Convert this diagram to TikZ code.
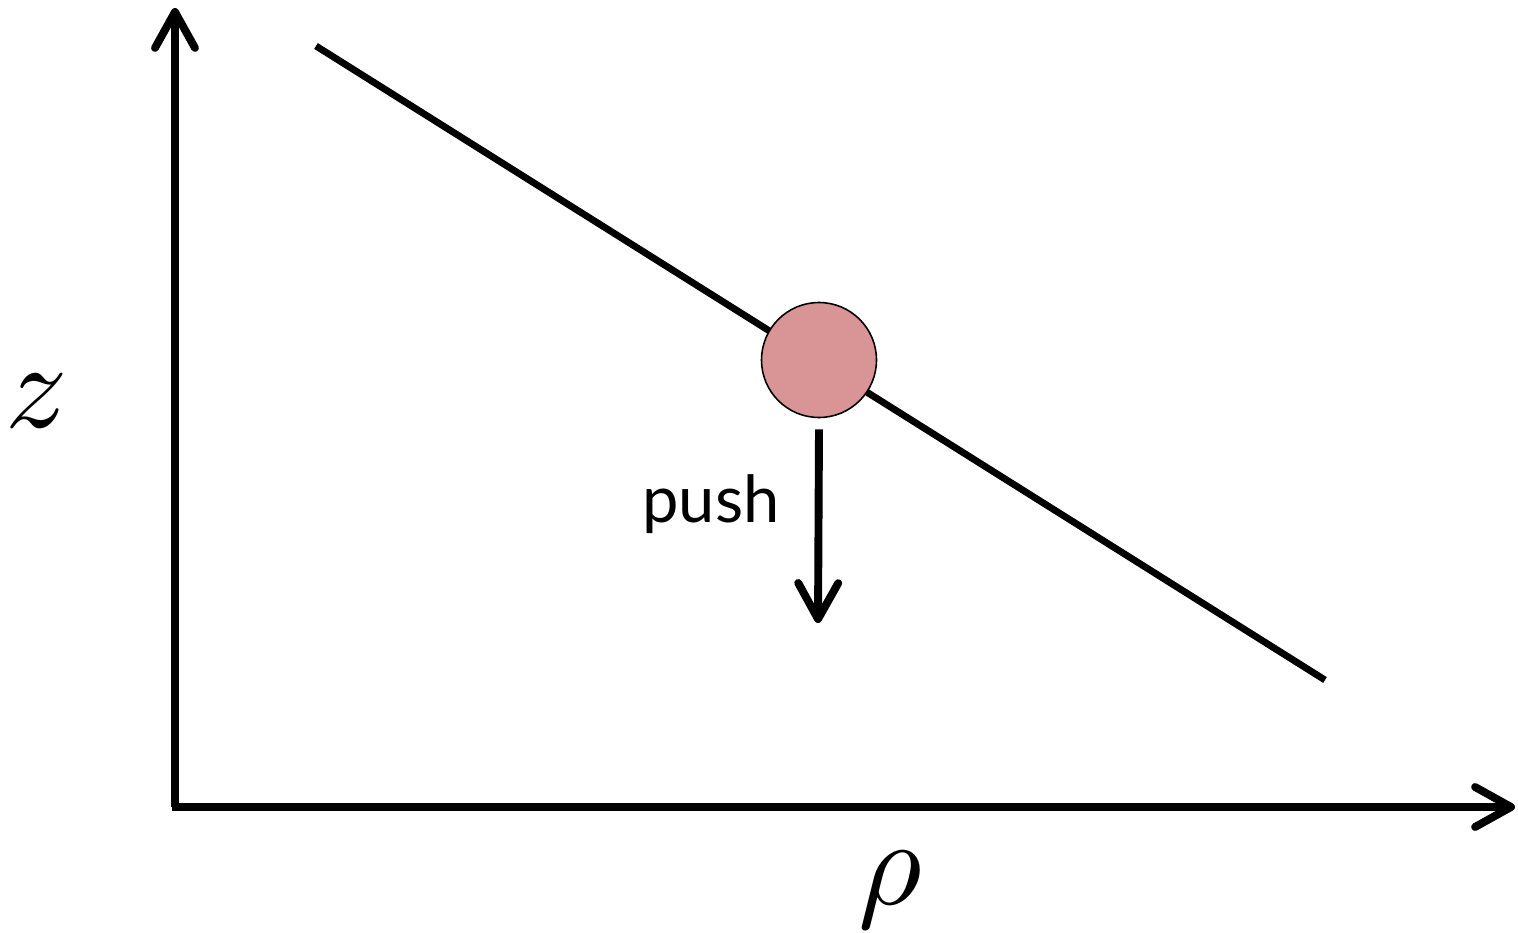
\documentclass[tikz,border=0pt]{standalone}
\usepackage{fontspec}
\newfontfamily\pushfont{Lato}
\usetikzlibrary{arrows.meta,positioning}
\definecolor{ballRose}{RGB}{217,149,149}

\begin{document}
\begin{tikzpicture}[x=0.02cm, y=-0.02cm, >={Straight Barb[length=0.72cm, width=0.8cm, round]}]
    \useasboundingbox (0,0) rectangle (1518,933);
    \coordinate (ORIGIN) at (175,807);
    \coordinate (ZTOP) at (175,8);
    \coordinate (RHOEND) at (1515,807);
    \coordinate (LINESTART) at (316,46);
    \coordinate (LINEEND) at (1325,680);

    \draw[line width=3.9pt] (LINESTART) -- (LINEEND);
    \node[draw, circle, fill=ballRose, line width=0.9pt, minimum size=2.3cm, inner sep=0pt] (BALL) at (819,360) {};

    \draw[->, line width=4.5pt] (ORIGIN) -- (ZTOP);
    \draw[->, line width=4.5pt] ([xshift=-0.06cm]ORIGIN) -- (RHOEND);

    \coordinate (PUSHEND) at (818,623);
    \draw[->, line width=4.5pt] ([yshift=-0.22cm]BALL.south) -- (PUSHEND);
    \node[anchor=base, inner sep=0pt] (PUSH) at (711,522) {\fontsize{37}{37}\selectfont\pushfont push};

    \node[scale=7] (ZLABEL) at (37,401) {$z$};
    \node[scale=7] (RHOLABEL) at (890,890) {$\rho$};
\end{tikzpicture}
\end{document}
